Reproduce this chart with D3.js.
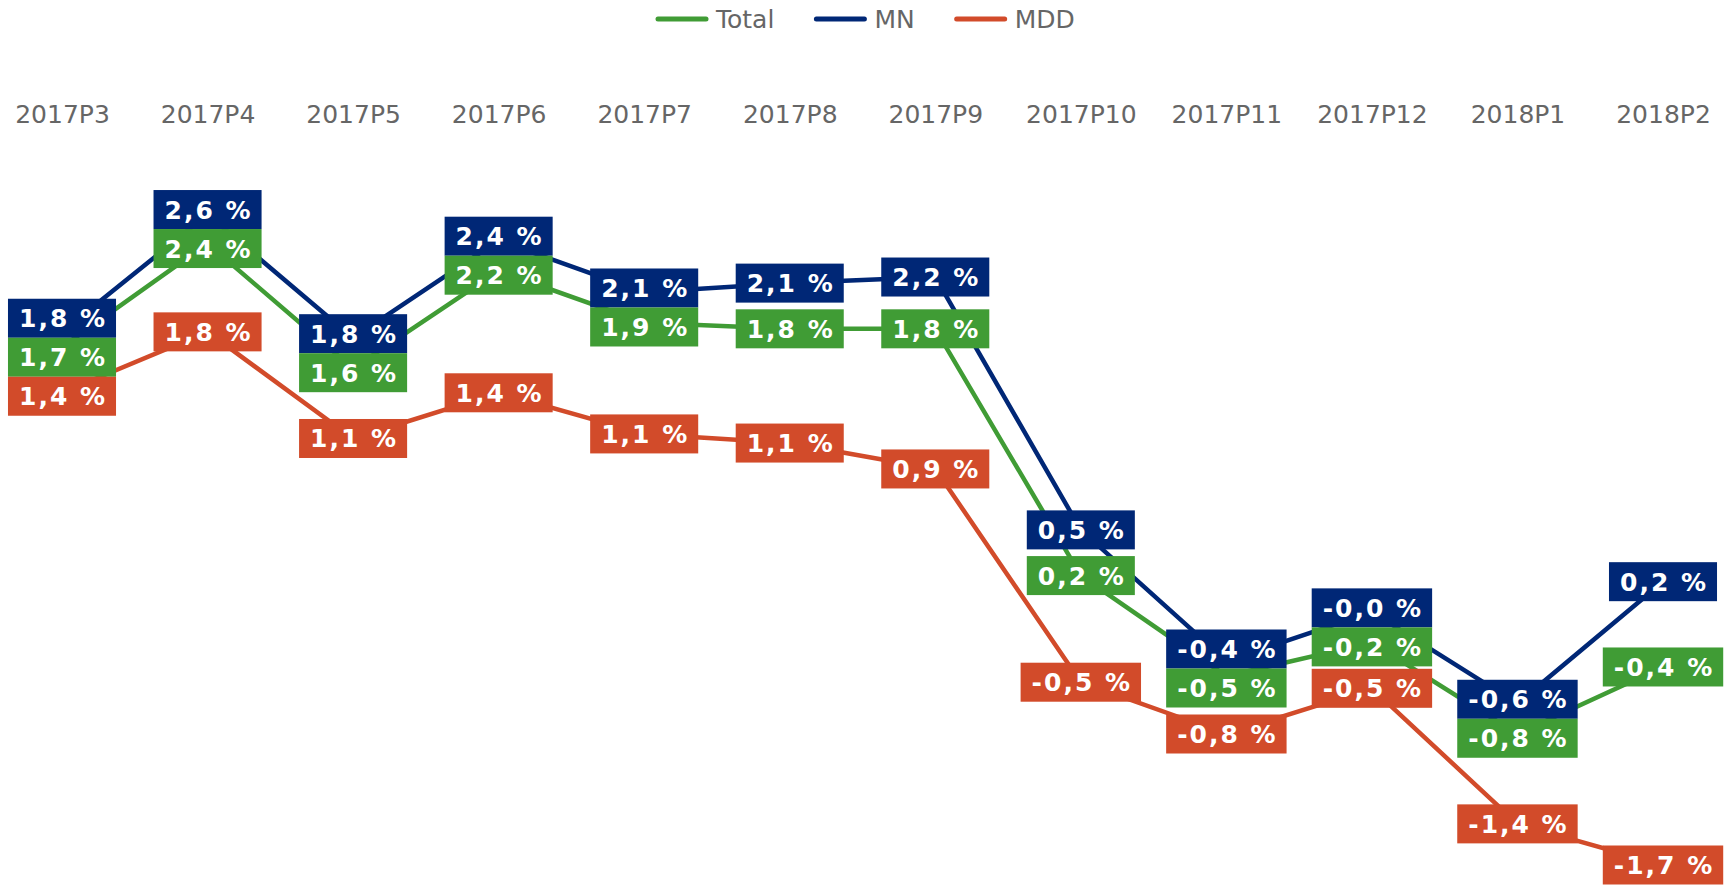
<!DOCTYPE html>
<html>
<head>
<meta charset="utf-8">
<script src="https://cdn.jsdelivr.net/npm/d3@7"></script>
<style>
  html, body { margin: 0; padding: 0; background: #fff; }
  svg { display: block; }
</style>
</head>
<body>
<div id="chart"></div>
<script>
// Periods and growth values (%)
const periods = ["2017P3", "2017P4", "2017P5", "2017P6", "2017P7", "2017P8",
  "2017P9", "2017P10", "2017P11", "2017P12", "2018P1", "2018P2"];
const total = [1.7, 2.38, 1.56, 2.2, 1.86, 1.82, 1.82, 0.2, -0.46, -0.24, -0.84, -0.4];
const mn = [1.8, 2.57, 1.76, 2.4, 2.06, 2.12, 2.16, 0.5, -0.36, -0.04, -0.64, 0.16];
const mdd = [1.4, 1.8, 1.1, 1.4, 1.13, 1.07, 0.9, -0.5, -0.84, -0.54, -1.43, -1.7];

const seriesNames = ["Total", "MN", "MDD"];
const seriesColors = ["#409c35", "#002776", "#d24b2a"];
const seriesValues = [total, mn, mdd];

const width = 1733, height = 885;
const boxH = 39, padX = 10;

const svg = d3.select("#chart").append("svg")
  .attr("width", width)
  .attr("height", height);

const x = d3.scalePoint().domain(periods).range([62, 1663]);
const y = d3.scaleLinear().domain([-1.7, 2.6]).range([865, 210]);

const fmt = v => v.toFixed(1).replace(".", ",") + " %";

// legend
const legend = svg.append("g").attr("font-family", "DejaVu Sans").attr("font-size", 25).attr("fill", "#666");
let lx = 656;
seriesNames.forEach((name, i) => {
  legend.append("line")
    .attr("x1", lx + 2).attr("x2", lx + 50)
    .attr("y1", 19).attr("y2", 19)
    .attr("stroke", seriesColors[i])
    .attr("stroke-width", 5)
    .attr("stroke-linecap", "round");
  const t = legend.append("text").attr("x", lx + 60).attr("y", 28).text(name);
  lx = lx + 60 + t.node().getComputedTextLength() + 40;
});

// category axis on top
const axis = svg.append("g")
  .attr("transform", "translate(0,123)")
  .call(d3.axisTop(x).tickSize(0).tickPadding(0));
axis.select(".domain").remove();
axis.selectAll("text")
  .attr("font-family", "DejaVu Sans")
  .attr("font-size", 25)
  .attr("fill", "#666");

// lines
const line = d3.line()
  .x((d, i) => x(periods[i]))
  .y(d => y(d));

seriesValues.forEach((vals, i) => {
  svg.append("path")
    .datum(vals)
    .attr("d", line)
    .attr("fill", "none")
    .attr("stroke", seriesColors[i])
    .attr("stroke-width", 4.5)
    .attr("stroke-linejoin", "round");
});

// data labels, pushed apart where they collide
const labels = [];
periods.forEach((p, j) => {
  const items = seriesValues.map((vals, i) => ({ s: i, v: vals[j], p: p, cy: y(vals[j]) }));
  items.sort((a, b) => a.cy - b.cy);
  for (let it = 0; it < 60; it++) {
    for (let k = 0; k < items.length - 1; k++) {
      const gap = items[k + 1].cy - items[k].cy;
      if (gap < boxH) {
        const d = (boxH - gap) / 2;
        items[k].cy -= d;
        items[k + 1].cy += d;
      }
    }
  }
  labels.push(...items);
});

const lab = svg.append("g").selectAll("g")
  .data(labels)
  .join("g")
  .attr("transform", d => `translate(${x(d.p)},${d.cy})`);

lab.append("rect").attr("fill", d => seriesColors[d.s]);

lab.append("text")
  .attr("text-anchor", "middle")
  .attr("dy", "0.36em")
  .attr("font-family", "DejaVu Sans")
  .attr("font-weight", "bold")
  .attr("font-size", 25)
  .attr("letter-spacing", 2)
  .attr("fill", "#fff")
  .text(d => fmt(d.v));

lab.each(function () {
  const g = d3.select(this);
  const w = g.select("text").node().getComputedTextLength() + 2 * padX;
  g.select("rect")
    .attr("x", -w / 2)
    .attr("y", -boxH / 2)
    .attr("width", w)
    .attr("height", boxH);
  // letter-spacing adds a trailing gap; shift text to keep it centred
  g.select("text").attr("x", 1);
});
</script>
</body>
</html>
